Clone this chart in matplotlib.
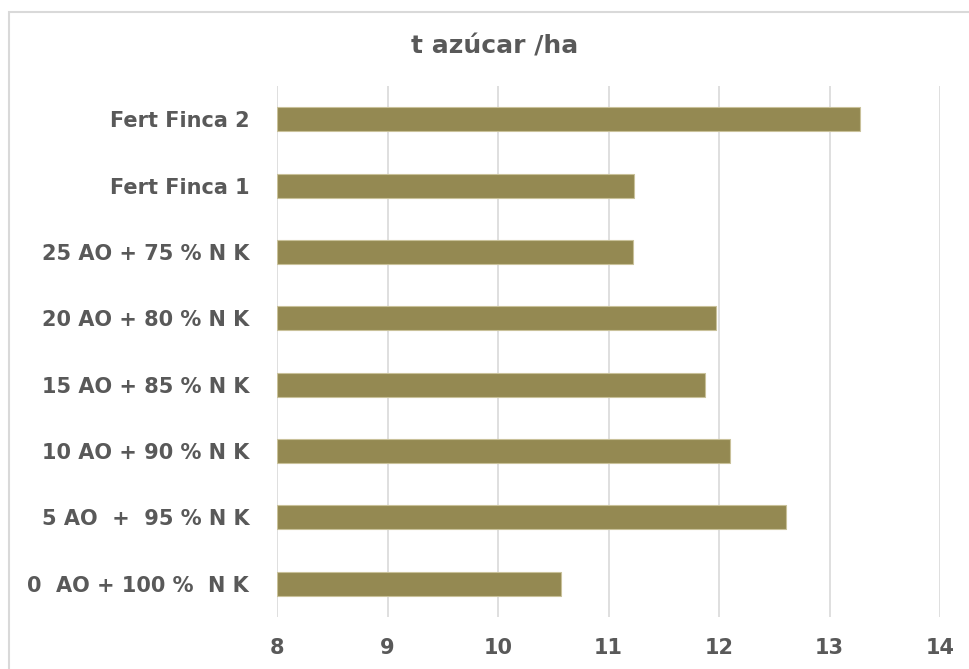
import matplotlib.pyplot as plt
from matplotlib.patches import Rectangle

categories = [
    "0  AO + 100 %  N K",
    "5 AO  +  95 % N K",
    "10 AO + 90 % N K",
    "15 AO + 85 % N K",
    "20 AO + 80 % N K",
    "25 AO + 75 % N K",
    "Fert Finca 1",
    "Fert Finca 2",
]
values = [10.57, 12.61, 12.10, 11.87, 11.97, 11.22, 11.23, 13.28]
x_ticks = [8, 9, 10, 11, 12, 13, 14]
title = "t azúcar /ha"

text_color = "#595959"
bar_color = "#948952"
grid_color = "#d9d9d9"

plt.rcParams["font.family"] = ["DejaVu Sans"]

fig = plt.figure(figsize=(9.69, 6.69), dpi=100)
ax = fig.add_axes([277 / 969, 1 - 617 / 669, (940 - 277) / 969, (617 - 86) / 669])

ypos = list(range(len(categories)))
ax.barh(ypos, [v - x_ticks[0] for v in values], left=x_ticks[0], height=0.36,
        color=bar_color, edgecolor="#c9c19a", linewidth=0.8, zorder=3)

ax.set_xlim(x_ticks[0], x_ticks[-1])
ax.set_ylim(-0.5, len(categories) - 0.5)
ax.set_xticks(x_ticks)
ax.set_xticklabels([str(t) for t in x_ticks])
ax.set_yticks(ypos)
ax.set_yticklabels(categories)

for lab in ax.get_xticklabels() + ax.get_yticklabels():
    lab.set_fontsize(15)
    lab.set_fontweight("bold")
    lab.set_color(text_color)

ax.tick_params(axis="both", length=0)
ax.tick_params(axis="y", pad=20)
ax.tick_params(axis="x", pad=15)
ax.grid(axis="x", color=grid_color, linewidth=1.2, zorder=0)
for s in ax.spines.values():
    s.set_visible(False)

fig.text(495 / 969, 1 - 46 / 669, title, ha="center", va="center",
         fontsize=18, fontweight="bold", color=text_color)

# light chart border
fig.patches.append(Rectangle((9 / 969, -0.05), 1.2, 1 - 12 / 669 + 0.05,
                             transform=fig.transFigure, fill=False,
                             edgecolor="#d9d9d9", linewidth=1.5))

fig.savefig("out.png", dpi=100)
